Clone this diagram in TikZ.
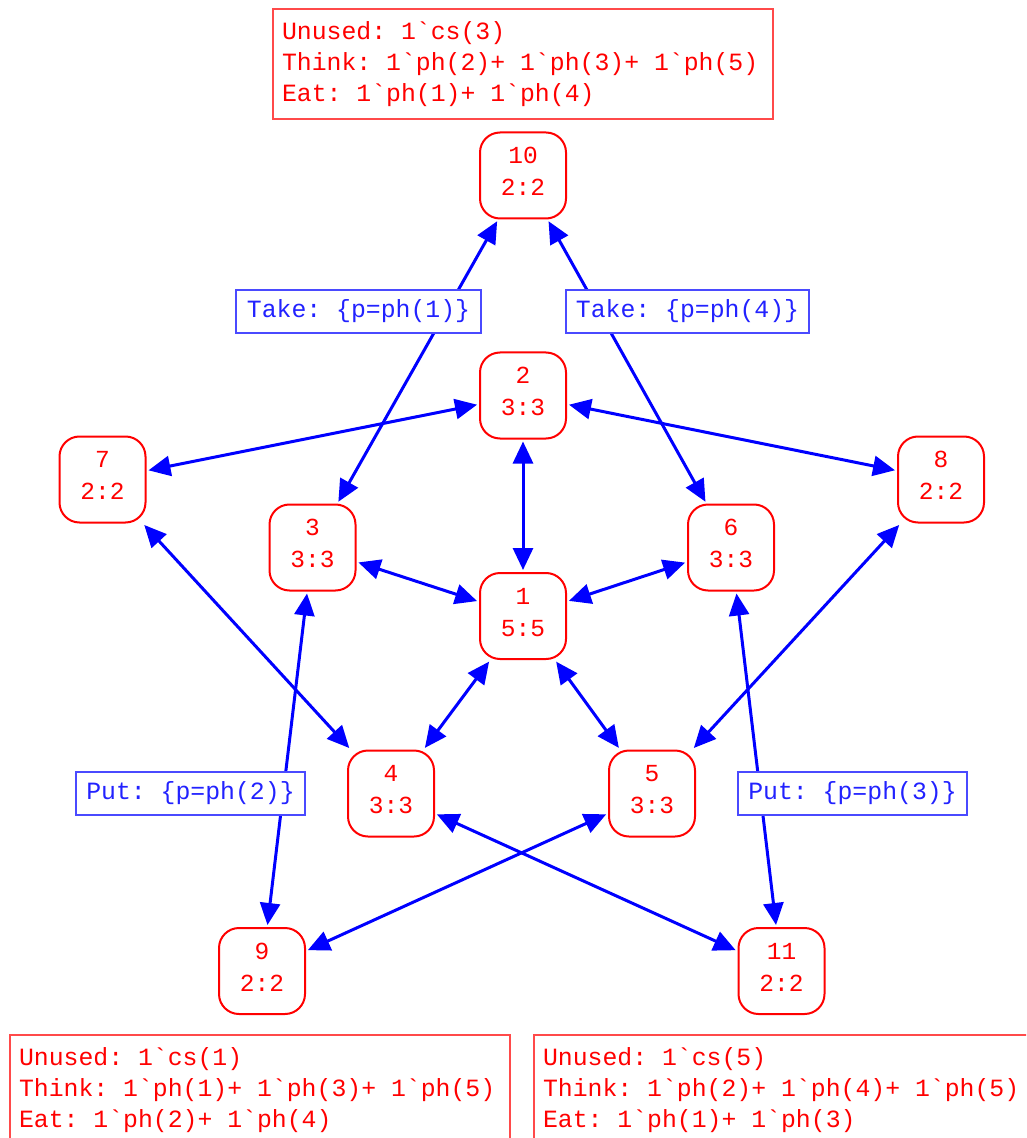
\documentclass[tikz,border=0pt]{standalone}
\usepackage{fontspec}
\setmonofont{Liberation Mono}
\usetikzlibrary{arrows.meta}
\definecolor{nred}{HTML}{FF0000}
\definecolor{bred}{HTML}{FF4A4A}
\definecolor{eblue}{HTML}{0000FF}
\definecolor{lblue}{HTML}{4A4AFF}
\definecolor{tblue}{HTML}{2222FF}
\DeclareRobustCommand\monospc{\spaceskip=7.45pt\relax\xspaceskip=7.45pt\relax}
\begin{document}
\begin{tikzpicture}[x=0.5pt,y=-0.5pt,
  font=\ttfamily\fontsize{12.4pt}{15.6pt}\selectfont,
  state/.style={draw=nred, line width=1pt, rounded corners=10pt, minimum width=43pt, minimum height=43pt, text=nred, align=center, inner sep=0pt, text depth=4pt, font=\ttfamily\fontsize{12.25pt}{16pt}\selectfont},
  lab/.style={draw=lblue, line width=1pt, fill=white, text=tblue, minimum height=21.5pt, inner sep=0pt, execute at begin node=\monospc},
  info/.style={draw=bred, line width=1pt, text=nred, align=left, text width=241pt, inner xsep=4.5pt, inner ysep=0pt, minimum height=55pt, anchor=north west, execute at begin node=\monospc},
  edge/.style={draw=eblue, line width=1.5pt, {Triangle[length=11pt,width=10pt]}-{Triangle[length=11pt,width=10pt]}, shorten <=1pt, shorten >=1pt}
]
\useasboundingbox (0,0) rectangle (1026,1138);
\clip (0,0) rectangle (1026,1138);

% info boxes
\node[info] (infotop) at (272,8) {Unused: 1`cs(3)\\Think: 1`ph(2)+ 1`ph(3)+ 1`ph(5)\\Eat: 1`ph(1)+ 1`ph(4)};
\node[info] (infobl) at (9,1034) {Unused: 1`cs(1)\\Think: 1`ph(1)+ 1`ph(3)+ 1`ph(5)\\Eat: 1`ph(2)+ 1`ph(4)};
\node[info] (infobr) at (533,1034) {Unused: 1`cs(5)\\Think: 1`ph(2)+ 1`ph(4)+ 1`ph(5)\\Eat: 1`ph(1)+ 1`ph(3)};

% states
\node[state] (n10) at (523,175.5) {10\\2:2};
\node[state] (n2)  at (523,395.5) {2\\3:3};
\node[state] (n7)  at (102.5,479.5) {7\\2:2};
\node[state] (n8)  at (941,479.5) {8\\2:2};
\node[state] (n3)  at (312.5,547.5) {3\\3:3};
\node[state] (n6)  at (731,547.5) {6\\3:3};
\node[state] (n1)  at (523,616) {1\\5:5};
\node[state] (n4)  at (391,793.5) {4\\3:3};
\node[state] (n5)  at (652,793.5) {5\\3:3};
\node[state] (n9)  at (262,971) {9\\2:2};
\node[state] (n11) at (781.5,971) {11\\2:2};

% edges
\draw[edge] (n10) -- (n3);
\draw[edge] (n10) -- (n6);
\draw[edge] (n2) -- (n7);
\draw[edge] (n2) -- (n8);
\draw[edge] (n2) -- (n1);
\draw[edge] (n3) -- (n1);
\draw[edge] (n6) -- (n1);
\draw[edge] (n1) -- (n4);
\draw[edge] (n1) -- (n5);
\draw[edge] (n7) -- (n4);
\draw[edge] (n8) -- (n5);
\draw[edge] (n3) -- (n9);
\draw[edge] (n6) -- (n11);
\draw[edge] (n5) -- (n9);
\draw[edge] (n4) -- (n11);

% transition labels
\node[lab, minimum width=122.5pt] (t1) at (358.5,311.5) {Take: \{p=ph(1)\}};
\node[lab, minimum width=121.5pt] (t4) at (687.5,311.5) {Take: \{p=ph(4)\}};
\node[lab, minimum width=114.5pt] (p2) at (190.5,793.5) {Put: \{p=ph(2)\}};
\node[lab, minimum width=114.5pt] (p3) at (852.5,793.5) {Put: \{p=ph(3)\}};
\end{tikzpicture}
\end{document}
